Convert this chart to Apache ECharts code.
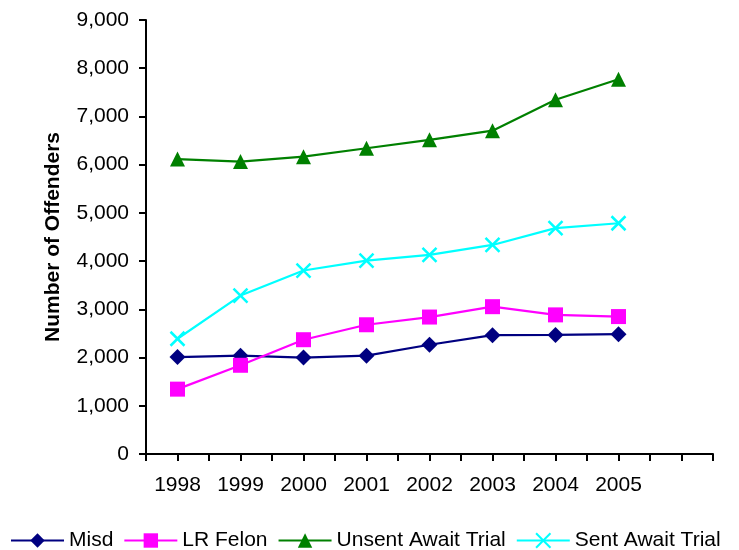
<!DOCTYPE html>
<html>
<head>
<meta charset="utf-8">
<script src="https://cdn.jsdelivr.net/npm/echarts@6/dist/echarts.min.js"></script>
<style>
  html, body { margin: 0; padding: 0; background: #fff; }
  #chart { width: 739px; height: 550px; }
</style>
</head>
<body>
<div id="chart"></div>
<script>
// Offender counts by year
const years = ['1998', '1999', '2000', '2001', '2002', '2003', '2004', '2005', ''];
const misd = [2010, 2040, 2000, 2040, 2265, 2465, 2470, 2485];
const lrFelon = [1345, 1840, 2370, 2680, 2840, 3055, 2885, 2850];
const unsentAwaitTrial = [6115, 6065, 6165, 6340, 6515, 6705, 7345, 7770];
const sentAwaitTrial = [2390, 3285, 3805, 4010, 4130, 4335, 4685, 4785];
const yTicks = { min: 0, max: 9000, step: 1000 };

// Half-category ticks: 2 slots per year on a hidden companion axis
const halfSlots = [];
for (let i = 0; i < years.length * 2; i++) halfSlots.push('');

const font = 'Arial, "Liberation Sans", sans-serif';
const chart = echarts.init(document.getElementById('chart'));

function lineSeries(name, data, color, symbol, size, extra) {
  return Object.assign({
    name: name,
    type: 'line',
    data: data,
    symbol: symbol,
    symbolSize: size,
    showAllSymbol: true,
    lineStyle: { color: color, width: 2.2 },
    itemStyle: { color: color },
    emphasis: { disabled: true },
    animation: false
  }, extra || {});
}

chart.setOption({
  animation: false,
  grid: { left: 146, right: 26, top: 20, bottom: 96, containLabel: false },
  legend: {
    top: 530,
    left: 10,
    padding: 0,
    itemWidth: 53,
    itemHeight: 18,
    itemGap: 10,
    textStyle: { fontFamily: font, fontSize: 21, color: '#000' },
    data: ['Misd', 'LR Felon', 'Unsent Await Trial', 'Sent Await Trial']
  },
  xAxis: [
    {
      type: 'category',
      data: years,
      boundaryGap: true,
      axisLine: { lineStyle: { color: '#000', width: 2 } },
      axisTick: { show: false },
      axisLabel: { interval: 0, margin: 21, fontFamily: font, fontSize: 21, color: '#000' },
      splitLine: { show: false }
    },
    {
      type: 'category',
      data: halfSlots,
      boundaryGap: true,
      position: 'bottom',
      axisLine: { show: false },
      axisTick: { show: true, interval: 0, length: 7, lineStyle: { color: '#000', width: 2 } },
      axisLabel: { show: false },
      splitLine: { show: false }
    }
  ],
  yAxis: {
    type: 'value',
    min: yTicks.min,
    max: yTicks.max,
    interval: yTicks.step,
    name: 'Number of Offenders',
    nameLocation: 'middle',
    nameGap: 82,
    nameTextStyle: { fontFamily: font, fontSize: 21, fontWeight: 'bold', color: '#000' },
    axisLine: { show: true, lineStyle: { color: '#000', width: 2 } },
    axisTick: { show: true, length: 7, lineStyle: { color: '#000', width: 2 } },
    axisLabel: {
      margin: 17,
      fontFamily: font, fontSize: 21, color: '#000',
      formatter: v => v.toLocaleString('en-US')
    },
    splitLine: { show: false }
  },
  series: [
    lineSeries('Misd', misd, '#000080', 'diamond', 16),
    lineSeries('LR Felon', lrFelon, '#FF00FF', 'rect', 15),
    lineSeries('Unsent Await Trial', unsentAwaitTrial, '#008000', 'triangle', 15),
    lineSeries('Sent Await Trial', sentAwaitTrial, '#00FFFF', 'path://M0,0L10,10M10,0L0,10', 14, {
      itemStyle: { color: 'none', borderColor: '#00FFFF', borderWidth: 2.5 }
    })
  ]
});
</script>
</body>
</html>
